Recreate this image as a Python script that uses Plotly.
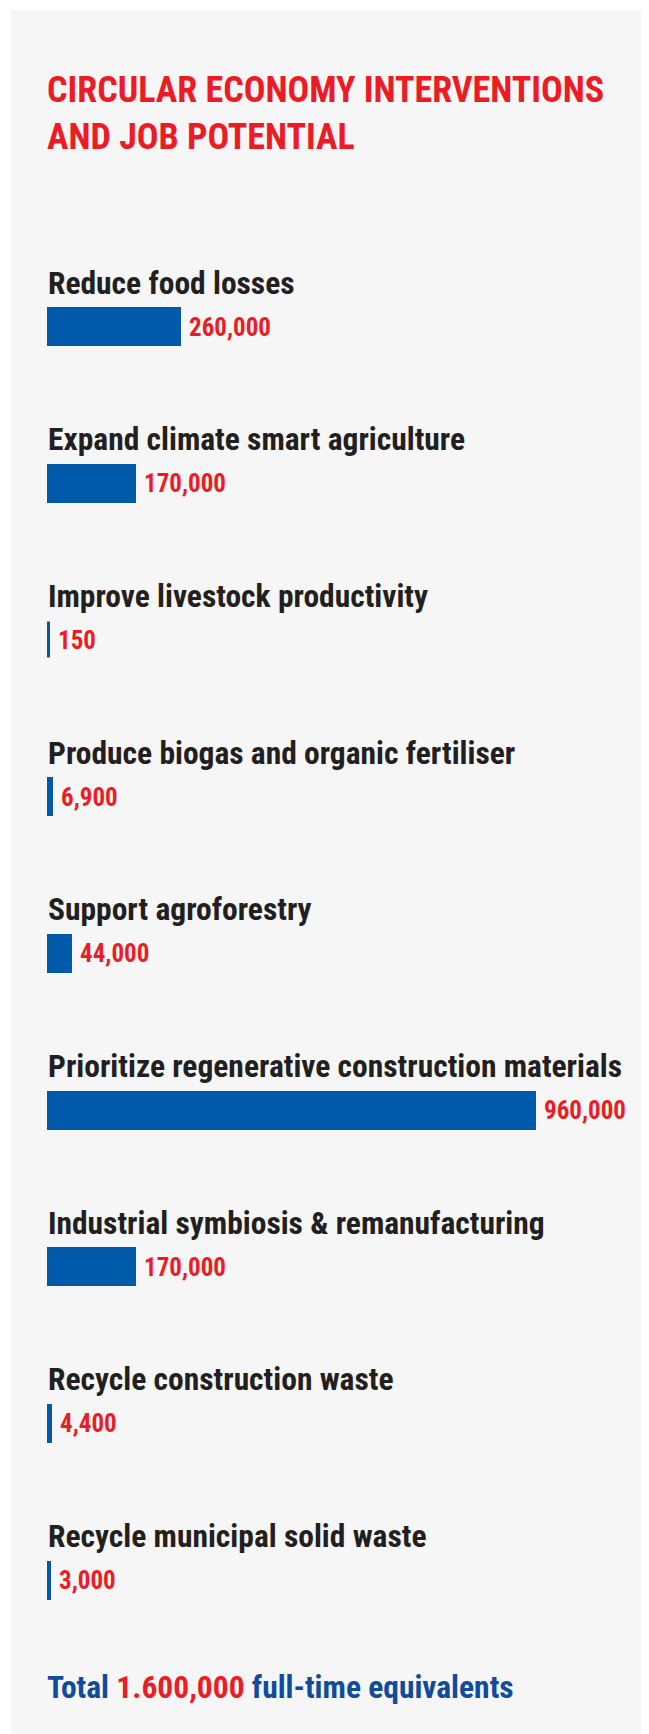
import plotly.graph_objects as go

# data
interventions = [
    "Reduce food losses",
    "Expand climate smart agriculture",
    "Improve livestock productivity",
    "Produce biogas and organic fertiliser",
    "Support agroforestry",
    "Prioritize regenerative construction materials",
    "Industrial symbiosis & remanufacturing",
    "Recycle construction waste",
    "Recycle municipal solid waste",
]
jobs = [260000, 170000, 150, 6900, 44000, 960000, 170000, 4400, 3000]
job_labels = ["260,000", "170,000", "150", "6,900", "44,000", "960,000", "170,000", "4,400", "3,000"]
total_label = "1.600,000"

W, H = 649, 1734
FONT = "Roboto Condensed, Open Sans Condensed, DejaVu Sans Condensed, sans-serif"
BLUE = "#005aa9"
RED = "#ed1c24"
INK = "#231f20"
NAVY = "#114b9b"
CARD = "#f6f6f6"

# axis geometry (pixels inside the figure; the page adds an 8px body margin)
x0_px, bar_px = 40.5, 486.5    # where 0 sits, length of the largest bar
row0_px, row_px = 319, 156.7   # centre of first bar, row pitch
bar_h_px = 36

vmax = max(jobs)
x_range = [-x0_px / bar_px * vmax, (W - x0_px) / bar_px * vmax]
y_range = [(H - row0_px) / row_px, -row0_px / row_px]
rows = list(range(len(interventions)))

fig = go.Figure(go.Bar(
    x=jobs,
    y=rows,
    orientation="h",
    width=bar_h_px / row_px,
    marker=dict(color=BLUE, line=dict(color=BLUE, width=3)),
    hoverinfo="skip",
))

# category labels above each bar
for i, name in enumerate(interventions):
    fig.add_annotation(
        x=0, y=i, xref="x", yref="y", text=name, showarrow=False,
        xanchor="left", yanchor="middle", xshift=-3, yshift=44,
        font=dict(family=FONT, size=31.5, color=INK, weight=700),
    )

# value labels to the right of each bar
for i, (v, lab) in enumerate(zip(jobs, job_labels)):
    fig.add_annotation(
        x=v, y=i, xref="x", yref="y", text=lab, showarrow=False,
        xanchor="left", yanchor="middle", xshift=7, yshift=0,
        font=dict(family=FONT, size=25, color=RED, weight=700),
    )

fig.add_annotation(
    x=37 / W, y=1 - 105 / H, xref="paper", yref="paper",
    text="CIRCULAR ECONOMY INTERVENTIONS<br>AND JOB POTENTIAL",
    showarrow=False, xanchor="left", yanchor="middle", align="left",
    font=dict(family=FONT, size=36, color=RED, weight=700),
)

fig.add_annotation(
    x=37 / W, y=1 - 1679 / H, xref="paper", yref="paper",
    text=f"Total <span style='color:{RED}'>{total_label}</span> full-time equivalents",
    showarrow=False, xanchor="left", yanchor="middle",
    font=dict(family=FONT, size=31.5, color=NAVY, weight=700),
)

fig.add_shape(
    type="rect", xref="paper", yref="paper",
    x0=3 / W, x1=1, y0=0, y1=1 - 2 / H,
    fillcolor=CARD, line_width=0, layer="below",
)

fig.update_xaxes(range=x_range, visible=False, fixedrange=True)
fig.update_yaxes(range=y_range, visible=False, fixedrange=True)
fig.update_layout(
    width=W, height=H,
    margin=dict(l=0, r=0, t=0, b=0),
    paper_bgcolor="white",
    plot_bgcolor="rgba(0,0,0,0)",
    showlegend=False,
    bargap=0,
)

fig.write_html("out.html", config={"displayModeBar": False})
